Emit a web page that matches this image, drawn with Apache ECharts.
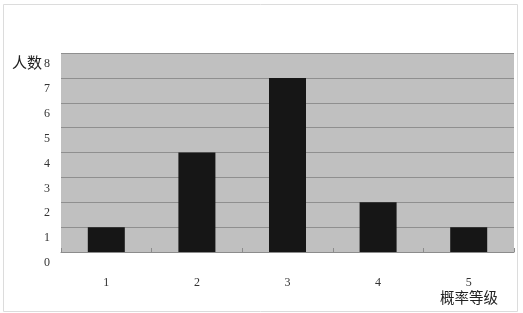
<!DOCTYPE html>
<html><head><meta charset="utf-8">
<script src="https://cdn.jsdelivr.net/npm/echarts@6/dist/echarts.min.js"></script>
<style>html,body{margin:0;padding:0;background:#fff}#c{width:523px;height:313px}</style>
</head><body><div id="c"></div>
<script>
const categories = ['1', '2', '3', '4', '5'];
const counts = [1, 4, 7, 2, 1];
const yTicks = [0, 1, 2, 3, 4, 5, 6, 7, 8];
const yName = '人数';
const xName = '概率等级';

const serif = '"Liberation Serif","DejaVu Serif",serif';
const cjk = '"Noto Sans CJK SC","Noto Sans CJK JP",sans-serif';
const chart = echarts.init(document.getElementById('c'));
chart.setOption({
  animation: false,
  backgroundColor: '#fff',
  grid: { left: 61, right: 9, top: 53, bottom: 61, show: true, backgroundColor: '#c0c0c0', borderWidth: 0 },
  xAxis: {
    type: 'category', data: categories,
    axisLine: { lineStyle: { color: '#8c8c8c', width: 1 } },
    axisTick: { show: true, inside: true, length: 4, lineStyle: { color: '#8c8c8c' } },
    axisLabel: { margin: 25, color: '#333', fontFamily: serif, fontSize: 12 }
  },
  yAxis: {
    type: 'value', min: yTicks[0], max: yTicks[yTicks.length - 1], interval: 1,
    axisLine: { show: false }, axisTick: { show: false },
    axisLabel: { margin: 11, color: '#333', fontFamily: serif, fontSize: 12, verticalAlign: 'top', padding: [5, 0, 0, 0] },
    splitLine: { lineStyle: { color: '#8f8f8f', width: 1 } }
  },
  series: [{
    type: 'bar', data: counts, barWidth: 37,
    itemStyle: { color: '#161616' }
  }],
  graphic: [
    { type: 'rect', shape: { x: 3.5, y: 4.5, width: 514, height: 307 }, style: { fill: 'none', stroke: '#dcdcdc', lineWidth: 1 }, silent: true },
    { type: 'text', left: 12, top: 55, style: { text: yName, font: '15px ' + cjk, fill: '#222' } },
    { type: 'text', left: 440, top: 290, style: { text: xName, font: '14.5px ' + cjk, fill: '#222' } }
  ]
});
</script></body></html>
